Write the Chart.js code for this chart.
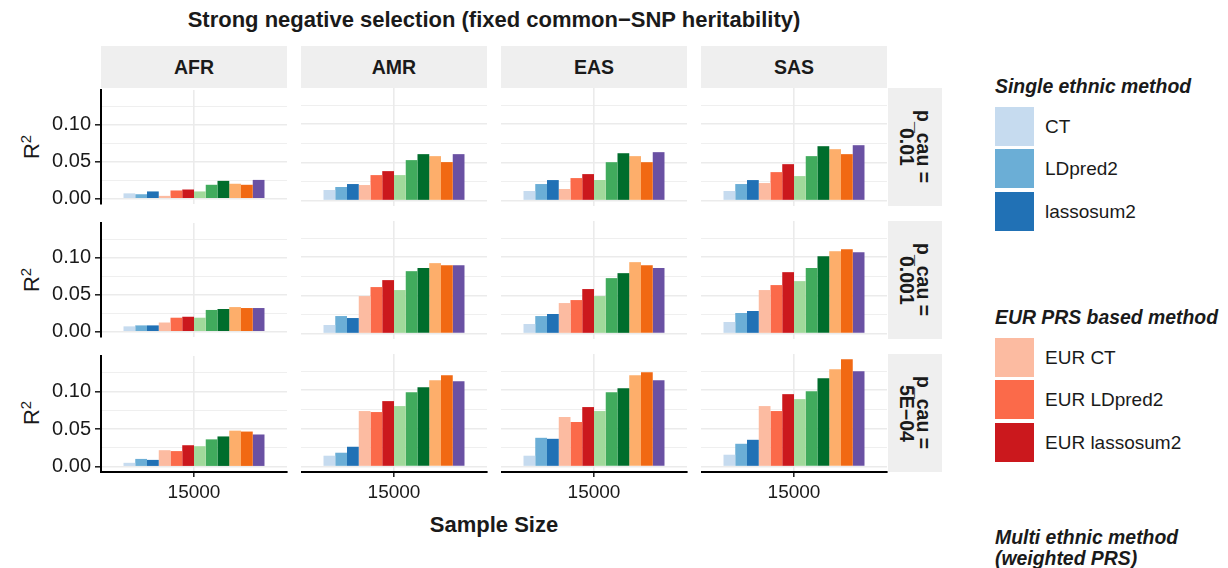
<!DOCTYPE html>
<html>
<head>
<meta charset="utf-8">
<script src="https://cdn.jsdelivr.net/npm/chart.js@4.4.0/dist/chart.umd.min.js"></script>
<style>
  html, body { margin: 0; padding: 0; background: #fff; }
  body {
    width: 1228px; height: 568px; position: relative; overflow: hidden;
    font-family: "Liberation Sans", Arial, Helvetica, sans-serif; color: #1a1a1a;
  }
  .txt { position: absolute; white-space: nowrap; }
  .title { font-weight: bold; font-size: 19.5px; }
  .strip-top {
    position: absolute; background: #efefef; font-weight: bold; font-size: 19.5px;
    display: flex; align-items: center; justify-content: center;
  }
  .strip-right {
    position: absolute; background: #efefef; font-weight: bold; font-size: 19.5px;
    display: flex; align-items: center; justify-content: center;
  }
  .strip-right span { writing-mode: vertical-rl; text-align: center; line-height: 17px; }
  .ytitle { position: absolute; font-size: 22px; transform: translate(-50%, -50%) rotate(-90deg); white-space: nowrap; }
  .ytitle sup { font-size: 0.68em; }
  .leg-title { position: absolute; font-weight: bold; font-style: italic; font-size: 19.4px; white-space: nowrap; line-height: 21px; }
  .leg-key { position: absolute; width: 39px; height: 39px; }
  .leg-lab { position: absolute; font-size: 19px; white-space: nowrap; line-height: 39px; }
  canvas { position: absolute; }
</style>
</head>
<body>
<script>
// ---- data -------------------------------------------------------------
const populations = ['AFR', 'AMR', 'EAS', 'SAS'];
const pcauValues = ['0.01', '0.001', '5E\u221204'];
const sampleSizes = ['15000'];
const methods = [
  'CT', 'LDpred2', 'lassosum2',
  'EUR CT', 'EUR LDpred2', 'EUR lassosum2',
  'Weighted CT', 'Weighted LDpred2', 'Weighted lassosum2',
  'XPASS', 'PRS-CSx', 'CT-SLEB'
];
const methodColors = [
  '#c6dbef', '#6baed6', '#2171b5',
  '#fcbba1', '#fb6a4a', '#cb181d',
  '#a1d99b', '#41ab5d', '#006d2c',
  '#fdae6b', '#f16913', '#6a51a3'
];
const yTicks = [0, 0.025, 0.05, 0.075, 0.1, 0.125];

// R2 by method, p_cau = 0.01
const afr_p01 = [0.0074, 0.0062, 0.0100, 0.0040, 0.0113, 0.0126, 0.0100, 0.0190, 0.0243, 0.0204, 0.0190, 0.0256];
const amr_p01 = [0.0139, 0.0178, 0.0217, 0.0204, 0.0334, 0.0386, 0.0334, 0.0530, 0.0608, 0.0582, 0.0504, 0.0608];
const eas_p01 = [0.0126, 0.0217, 0.0269, 0.0152, 0.0295, 0.0347, 0.0270, 0.0503, 0.0620, 0.0582, 0.0503, 0.0634];
const sas_p01 = [0.0126, 0.0217, 0.0269, 0.0230, 0.0373, 0.0477, 0.0321, 0.0582, 0.0712, 0.0673, 0.0608, 0.0725];
// p_cau = 0.001
const afr_p001 = [0.0074, 0.0087, 0.0087, 0.0126, 0.0191, 0.0204, 0.0191, 0.0296, 0.0309, 0.0335, 0.0322, 0.0322];
const amr_p001 = [0.0113, 0.0230, 0.0204, 0.0491, 0.0609, 0.0700, 0.0570, 0.0817, 0.0857, 0.0922, 0.0896, 0.0896];
const eas_p001 = [0.0126, 0.0230, 0.0257, 0.0400, 0.0439, 0.0583, 0.0491, 0.0726, 0.0791, 0.0935, 0.0896, 0.0857];
const sas_p001 = [0.0152, 0.0270, 0.0296, 0.0570, 0.0635, 0.0804, 0.0687, 0.0857, 0.1013, 0.1078, 0.1104, 0.1065];
// p_cau = 5E-04
const afr_p5e4 = [0.0052, 0.0104, 0.0091, 0.0220, 0.0208, 0.0286, 0.0273, 0.0364, 0.0403, 0.0480, 0.0468, 0.0429];
const amr_p5e4 = [0.0143, 0.0182, 0.0260, 0.0727, 0.0714, 0.0857, 0.0792, 0.0974, 0.1039, 0.1130, 0.1195, 0.1117];
const eas_p5e4 = [0.0143, 0.0377, 0.0364, 0.0649, 0.0584, 0.0779, 0.0727, 0.0974, 0.1026, 0.1195, 0.1234, 0.1130];
const sas_p5e4 = [0.0156, 0.0299, 0.0351, 0.0792, 0.0727, 0.0948, 0.0883, 0.0987, 0.1156, 0.1273, 0.1403, 0.1247];

const panelRows = [
  [afr_p01, amr_p01, eas_p01, sas_p01],
  [afr_p001, amr_p001, eas_p001, sas_p001],
  [afr_p5e4, amr_p5e4, eas_p5e4, sas_p5e4]
];

// ---- layout -----------------------------------------------------------
const PANEL_X = [101, 301, 501, 701];
const PANEL_Y = [88, 221, 354];
const PANEL_W = 186, PANEL_H = 118;
const PAD = 14, Y_AXIS_W = 70, X_AXIS_H = 40;
const INK = '#1a1a1a', GRID = '#ebebeb';

Chart.defaults.font.family = '"Liberation Sans", Arial, Helvetica, sans-serif';
Chart.defaults.color = INK;

// shared y range with a 5% margin on both ends
const peak = Math.max(...panelRows.flat(2));
const yLo = -0.05 * peak, yHi = 1.05 * peak;
const isMajor = v => Math.abs(v / 0.05 - Math.round(v / 0.05)) < 1e-6;

function addText(cls, html, css) {
  const d = document.createElement('div');
  d.className = cls;
  d.innerHTML = html;
  d.style.cssText += css;
  document.body.appendChild(d);
  return d;
}

// main title
addText('txt title', 'Strong negative selection (fixed common\u2212SNP heritability)',
  'top:7px;left:494px;font-size:22px;transform:translateX(-50%);');

// column strips
populations.forEach((p, c) => {
  addText('strip-top', p, `left:${PANEL_X[c]}px;top:46px;width:${PANEL_W}px;height:42px;`);
});
// row strips and y titles
pcauValues.forEach((v, r) => {
  addText('strip-right', `<span>p_cau =<br>${v}</span>`, `left:888px;top:${PANEL_Y[r]}px;width:54px;height:${PANEL_H}px;`);
  addText('ytitle', 'R<sup>2</sup>', `left:31px;top:${PANEL_Y[r] + PANEL_H / 2}px;`);
});
// x axis title
addText('txt title', 'Sample Size', 'top:512px;left:494px;font-size:22px;transform:translateX(-50%);');

// panels
panelRows.forEach((rowVals, r) => {
  rowVals.forEach((vals, c) => {
    const leftCol = c === 0;
    const bottomRow = r === panelRows.length - 1;
    const yW = leftCol ? Y_AXIS_W : 0;
    const xH = bottomRow ? X_AXIS_H : 0;
    const cv = document.createElement('canvas');
    cv.width = yW + PANEL_W + PAD;
    cv.height = PAD + PANEL_H + xH + PAD;
    cv.style.left = (PANEL_X[c] - yW) + 'px';
    cv.style.top = (PANEL_Y[r] - PAD) + 'px';
    cv.style.width = cv.width + 'px';
    cv.style.height = cv.height + 'px';
    document.body.appendChild(cv);

    new Chart(cv, {
      type: 'bar',
      data: {
        labels: sampleSizes,
        datasets: methods.map((m, i) => ({
          label: m,
          data: [vals[i]],
          backgroundColor: methodColors[i],
          borderWidth: 0
        }))
      },
      options: {
        responsive: false,
        animation: false,
        events: [],
        layout: { padding: { top: PAD, right: PAD, bottom: PAD, left: 0 } },
        plugins: { legend: { display: false }, tooltip: { enabled: false } },
        datasets: { bar: { categoryPercentage: 0.758, barPercentage: 1 } },
        scales: {
          x: {
            offset: true,
            grid: {
              offset: false, color: GRID, lineWidth: 1.6,
              drawTicks: bottomRow, tickLength: 5, tickColor: INK, tickWidth: 1.5
            },
            border: { display: bottomRow, color: '#000', width: 2 },
            ticks: { display: bottomRow, color: INK, font: { size: 19 }, padding: 4, maxRotation: 0 },
            afterFit: s => { s.height = xH; }
          },
          y: {
            min: yLo,
            max: yHi,
            afterBuildTicks: s => { s.ticks = yTicks.map(v => ({ value: v })); },
            afterFit: s => { s.width = yW; },
            grid: {
              color: GRID,
              lineWidth: ctx => (ctx.tick && isMajor(ctx.tick.value)) ? 1.6 : 0.8,
              drawTicks: leftCol,
              tickLength: 6,
              tickWidth: 1.5,
              tickColor: ctx => (ctx.tick && isMajor(ctx.tick.value)) ? INK : 'rgba(0,0,0,0)'
            },
            border: { display: leftCol, color: '#000', width: 2 },
            ticks: {
              display: leftCol, autoSkip: false, color: INK, font: { size: 20 }, padding: 4,
              callback: v => isMajor(v) ? v.toFixed(2) : ''
            }
          }
        }
      }
    });
  });
});

// legend
const legendGroups = [
  { title: 'Single ethnic method', top: 76, keys: [0, 1, 2], keyTop: 107 },
  { title: 'EUR PRS based method', top: 307, keys: [3, 4, 5], keyTop: 338 }
];
legendGroups.forEach(g => {
  addText('leg-title', g.title, `left:995px;top:${g.top}px;`);
  g.keys.forEach((k, j) => {
    const t = g.keyTop + j * 42.3;
    addText('leg-key', '', `left:995px;top:${t}px;background:${methodColors[k]};`);
    addText('leg-lab', methods[k], `left:1045px;top:${t}px;`);
  });
});
addText('leg-title', 'Multi ethnic method<br>(weighted PRS)', 'left:995px;top:527px;');
</script>
</body>
</html>
